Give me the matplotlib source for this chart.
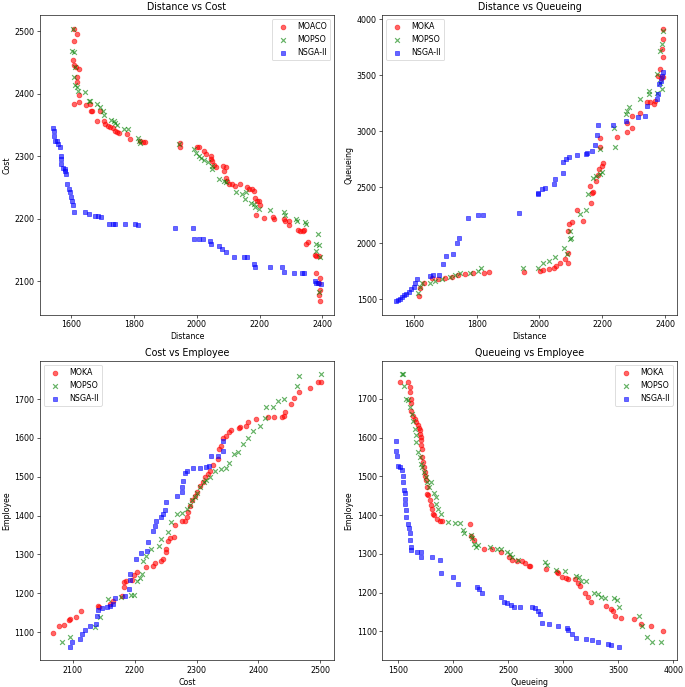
import matplotlib
matplotlib.use("Agg")
import matplotlib.pyplot as plt

# ---------------- Panel 1: Distance vs Cost ----------------
p1_moaco = [(1609,2503),(1618,2496),(1607,2485),(1605,2454),(1610,2446),(1616,2442),(1625,2440),
            (1618,2427),(1618,2418),(1623,2398),(1610,2384),(1625,2387),(1647,2382),(1660,2383),
            (1663,2372),(1667,2372),(1681,2357),(1692,2372),(1704,2356),(1707,2352),(1718,2349),
            (1723,2346),(1734,2345),(1739,2341),(1744,2338),(1752,2337),(1776,2336),(1788,2328),
            (1818,2324),(1828,2322),(1834,2322),(1947,2321),(1947,2315),(1999,2315),(2007,2315),
            (2023,2308),(2028,2303),(2044,2300),(2046,2295),(2049,2293),(2055,2286),(2060,2283),
            (2083,2284),(2092,2283),(2086,2276),(2092,2265),(2097,2260),(2102,2256),(2113,2255),
            (2120,2252),(2136,2256),(2160,2250),(2165,2247),(2176,2247),(2181,2244),(2186,2233),
            (2192,2228),(2199,2228),(2202,2222),(2189,2206),(2213,2201),(2244,2202),(2245,2199),
            (2278,2199),(2281,2197),(2292,2197),(2292,2190),(2323,2182),(2329,2181),(2337,2181),
            (2342,2182),(2349,2160),(2355,2163),(2376,2142),(2381,2141),(2389,2141),(2379,2113),
            (2392,2105),(2389,2097),(2392,2085),(2389,2077),(2392,2068)]
p1_mopso = [(1605,2504),(1602,2468),(1609,2467),(1613,2443),(1609,2427),(1613,2414),(1618,2410),
            (1620,2405),(1644,2403),(1655,2389),(1660,2389),(1683,2384),(1692,2379),(1701,2373),
            (1705,2366),(1725,2358),(1736,2357),(1740,2353),(1744,2350),(1769,2344),(1781,2344),
            (1811,2329),(1816,2325),(1818,2321),(1944,2319),(1992,2311),(1997,2305),(2007,2300),
            (2013,2297),(2023,2294),(2034,2290),(2047,2285),(2049,2279),(2071,2263),(2086,2260),
            (2092,2258),(2126,2243),(2144,2239),(2155,2242),(2152,2231),(2172,2225),(2181,2223),
            (2186,2218),(2197,2215),(2234,2214),(2278,2211),(2281,2206),(2316,2199),(2318,2197),
            (2344,2194),(2349,2191),(2386,2176),(2381,2159),(2389,2158),(2381,2149),(2392,2138),
            (2389,2082)]
p1_nsga = [(1542,2345),(1544,2340),(1546,2333),(1549,2324),(1555,2324),(1557,2319),(1563,2315),
           (1566,2300),(1566,2295),(1568,2287),(1574,2281),(1579,2280),(1581,2276),(1584,2271),
           (1586,2255),(1592,2248),(1597,2242),(1599,2234),(1602,2228),(1605,2222),(1607,2211),
           (1642,2210),(1655,2208),(1676,2205),(1686,2205),(1695,2203),(1721,2192),(1734,2192),
           (1739,2191),(1771,2191),(1802,2191),(1813,2190),(1931,2185),(1989,2185),(1992,2167),
           (2007,2167),(2018,2167),(2042,2165),(2046,2160),(2071,2157),(2081,2151),(2092,2146),
           (2118,2138),(2149,2138),(2160,2138),(2181,2128),(2184,2122),(2234,2122),(2271,2122),
           (2276,2114),(2311,2113),(2334,2113),(2342,2113),(2376,2101),(2379,2097),(2387,2097),
           (2395,2096)]

# ---------------- Panel 2: Distance vs Queueing ----------------
p2_moka = [(2395,3917),(2395,3827),(2390,3732),(2395,3664),(2385,3554),(2379,3494),(2388,3479),
           (2395,3485),(2369,3271),(2353,3265),(2364,3241),(2343,3262),(2322,3161),(2296,3137),
           (2280,3077),(2294,3033),(2280,2994),(2246,2952),(2194,2943),(2194,2860),(2204,2714),
           (2200,2690),(2191,2661),(2186,2610),(2181,2557),(2160,2512),(2172,2458),(2168,2446),
           (2163,2363),(2139,2199),(2120,2295),(2105,2190),(2095,2170),(2092,2110),(2090,1911),
           (2081,1857),(2092,1827),(2066,1821),(2053,1798),(2045,1783),(2029,1774),(2013,1759),
           (2003,1753),(1950,1744),(1841,1744),(1825,1738),(1788,1738),(1762,1723),(1741,1717),
           (1720,1702),(1699,1693),(1678,1685),(1658,1693),(1631,1649),(1621,1604),(1616,1530)]
p2_mopso = [(2395,3896),(2390,3783),(2385,3717),(2390,3375),(2374,3515),(2385,3435),(2374,3345),
            (2348,3360),(2348,3330),(2322,3292),(2285,3217),(2280,3182),(2275,3152),(2238,3033),
            (2241,2860),(2194,2845),(2201,2640),(2194,2622),(2181,2601),(2172,2586),(2155,2443),
            (2149,2295),(2128,2259),(2097,2110),(2102,2051),(2097,2036),(2078,1961),(2087,1902),
            (2050,1878),(2029,1842),(2011,1827),(1997,1783),(1948,1783),(1814,1783),(1804,1753),
            (1778,1738),(1746,1738),(1731,1714),(1715,1700),(1689,1679),(1668,1664),(1652,1649),
            (1626,1649),(1621,1610),(1614,1560)]
p2_nsga = [(2395,3530),(2392,3494),(2388,3449),(2382,3420),(2379,3330),(2376,3286),(2343,3226),
           (2336,3137),(2315,3128),(2275,3092),(2236,3054),(2188,3054),(2183,2964),(2178,2878),
           (2168,2824),(2151,2810),(2149,2795),(2120,2786),(2095,2771),(2086,2750),(2074,2729),
           (2074,2625),(2050,2571),(2045,2527),(2018,2497),(2008,2482),(1997,2452),(1995,2437),
           (1935,2274),(1820,2250),(1804,2250),(1773,2229),(1743,2051),(1738,2006),(1726,1902),
           (1701,1887),(1694,1812),(1681,1717),(1661,1717),(1651,1708),(1610,1679),(1605,1649),
           (1600,1610),(1592,1589),(1584,1568),(1576,1551),(1569,1539),(1561,1521),(1555,1506),
           (1548,1491),(1542,1485)]

# ---------------- Panel 3: Cost vs Employee ----------------
p3_moka = [(2068,1098),(2077,1115),(2085,1119),(2093,1132),(2096,1133),(2105,1139),(2113,1154),
           (2141,1167),(2143,1164),(2160,1173),(2165,1181),(2179,1193),(2182,1217),(2183,1229),
           (2186,1231),(2196,1235),(2198,1246),(2204,1254),(2219,1267),(2229,1270),(2233,1278),
           (2243,1283),(2246,1289),(2250,1306),(2250,1314),(2254,1336),(2257,1342),(2263,1344),
           (2265,1376),(2276,1385),(2281,1385),(2284,1396),(2286,1409),(2289,1424),(2293,1439),
           (2297,1451),(2300,1460),(2305,1475),(2311,1486),(2313,1499),(2319,1507),(2321,1516),
           (2327,1531),(2335,1546),(2336,1571),(2340,1580),(2343,1600),(2348,1606),(2352,1614),
           (2356,1620),(2368,1625),(2370,1629),(2380,1631),(2383,1640),(2396,1649),(2415,1653),
           (2425,1653),(2438,1653),(2442,1657),(2443,1668),(2453,1687),(2458,1703),(2466,1717),
           (2484,1728),(2496,1743),(2501,1743)]
p3_mopso = [(2082,1074),(2095,1087),(2136,1113),(2144,1139),(2157,1186),(2177,1190),(2194,1197),
            (2198,1197),(2203,1231),(2208,1240),(2211,1250),(2214,1284),(2219,1297),(2227,1313),
            (2240,1323),(2243,1340),(2254,1357),(2259,1383),(2268,1404),(2276,1406),(2284,1417),
            (2289,1428),(2292,1439),(2297,1447),(2300,1458),(2305,1473),(2312,1486),(2316,1492),
            (2321,1500),(2329,1514),(2340,1520),(2348,1523),(2352,1535),(2361,1559),(2367,1563),
            (2375,1584),(2383,1601),(2391,1619),(2403,1631),(2410,1651),(2412,1680),(2423,1680),
            (2431,1696),(2442,1700),(2463,1734),(2466,1760),(2501,1764)]
p3_nsga = [(2096,1063),(2098,1074),(2112,1083),(2115,1096),(2120,1106),(2127,1115),(2138,1121),
           (2139,1143),(2140,1156),(2147,1162),(2155,1164),(2160,1167),(2165,1173),(2168,1188),
           (2184,1194),(2190,1211),(2192,1235),(2192,1250),(2202,1289),(2210,1304),(2220,1310),
           (2222,1331),(2230,1360),(2233,1373),(2235,1387),(2242,1396),(2246,1404),(2249,1415),
           (2251,1434),(2269,1450),(2276,1460),(2277,1473),(2278,1488),(2281,1511),(2285,1516),
           (2294,1522),(2305,1522),(2315,1524),(2320,1527),(2324,1554),(2335,1554),(2342,1567),
           (2343,1593)]

# ---------------- Panel 4: Queueing vs Employee ----------------
p4_moka = [(1515,1743),(1590,1743),(1611,1730),(1611,1717),(1620,1700),(1620,1689),(1620,1670),
           (1635,1657),(1650,1649),(1665,1640),(1680,1634),(1689,1625),(1695,1619),(1701,1610),
           (1710,1601),(1710,1593),(1710,1580),(1719,1571),(1719,1550),(1725,1537),(1731,1524),
           (1740,1511),(1740,1500),(1749,1490),(1761,1473),(1761,1456),(1770,1451),(1791,1440),
           (1800,1426),(1809,1417),(1815,1404),(1821,1400),(1851,1389),(1875,1385),(1899,1385),
           (2153,1377),(2165,1347),(2189,1337),(2279,1314),(2348,1314),(2438,1304),(2504,1291),
           (2534,1284),(2579,1283),(2624,1283),(2654,1278),(2684,1270),(2699,1269),(2840,1260),
           (2939,1253),(2954,1250),(2984,1241),(3023,1237),(3044,1235),(3110,1235),(3134,1224),
           (3149,1218),(3194,1199),(3224,1190),(3254,1177),(3388,1167),(3433,1157),(3448,1153),
           (3472,1140),(3523,1134),(3637,1132),(3703,1120),(3793,1115),(3905,1100)]
p4_mopso = [(1530,1764),(1545,1764),(1551,1734),(1575,1700),(1590,1697),(1605,1679),(1629,1661),
            (1635,1644),(1650,1623),(1659,1606),(1665,1589),(1680,1563),(1695,1550),(1710,1533),
            (1719,1524),(1731,1511),(1749,1499),(1761,1486),(1779,1473),(1800,1486),(1824,1457),
            (1839,1447),(1845,1430),(1860,1417),(1890,1404),(1950,1383),(2019,1380),(2061,1379),
            (2085,1363),(2100,1353),(2160,1350),(2174,1340),(2189,1327),(2204,1317),(2228,1323),
            (2333,1319),(2399,1314),(2429,1314),(2489,1306),(2519,1299),(2534,1293),(2585,1284),
            (2834,1280),(2849,1271),(2930,1259),(3014,1256),(3119,1243),(3140,1240),(3164,1231),
            (3209,1229),(3278,1199),(3314,1197),(3344,1190),(3374,1186),(3463,1186),(3487,1181),
            (3508,1164),(3688,1140),(3718,1113),(3763,1087),(3808,1074),(3890,1074)]
p4_nsga = [(1476,1591),(1476,1566),(1485,1554),(1500,1528),(1515,1524),(1530,1516),(1539,1500),
           (1545,1486),(1551,1464),(1560,1457),(1560,1443),(1566,1430),(1569,1413),(1575,1396),
           (1590,1378),(1599,1368),(1605,1355),(1611,1336),(1620,1319),(1620,1310),(1671,1306),
           (1710,1304),(1710,1291),(1806,1291),(1875,1284),(1884,1252),(1995,1241),(2040,1223),
           (2211,1216),(2235,1210),(2259,1199),(2430,1190),(2460,1177),(2490,1173),(2526,1169),
           (2556,1164),(2610,1164),(2715,1162),(2745,1160),(2769,1154),(2790,1145),(2805,1123),
           (2865,1120),(2955,1115),(3030,1109),(3045,1104),(3075,1093),(3111,1083),(3210,1080),
           (3264,1079),(3315,1072),(3405,1068),(3429,1066),(3501,1061)]

titles = ["Distance vs Cost", "Distance vs Queueing", "Cost vs Employee", "Queueing vs Employee"]
xlabels = ["Distance", "Distance", "Cost", "Queueing"]
ylabels = ["Cost", "Queueing", "Employee", "Employee"]
first_names = ["MOACO", "MOKA", "MOKA", "MOKA"]
legend_locs = ["upper right", "upper left", "upper left", "upper right"]
panels = [(p1_moaco, p1_mopso, p1_nsga), (p2_moka, p2_mopso, p2_nsga),
          (p3_moka, p3_mopso, p3_nsga), (p4_moka, p4_mopso, p4_nsga)]

DPI = 685 / 12.0
fig, axes = plt.subplots(2, 2, figsize=(12.0, 687 / DPI), dpi=DPI)
fig.subplots_adjust(left=0.058, right=0.988, top=0.978, bottom=0.039, wspace=0.163, hspace=0.153)

for ax, (a, b, c), t, xl, yl, n1, loc in zip(axes.flat, panels, titles, xlabels, ylabels,
                                             first_names, legend_locs):
    ax.scatter([p[0] for p in a], [p[1] for p in a], c="red", marker="o", alpha=0.6, label=n1)
    ax.scatter([p[0] for p in b], [p[1] for p in b], c="green", marker="x", alpha=0.6, label="MOPSO")
    ax.scatter([p[0] for p in c], [p[1] for p in c], c="blue", marker="s", alpha=0.6, label="NSGA-II")
    ax.set_title(t, fontsize=12)
    ax.set_xlabel(xl)
    ax.set_ylabel(yl)
    ax.legend(loc=loc)

axes[0, 1].set_yticks([1500, 2000, 2500, 3000, 3500, 4000])
axes[1, 1].set_xticks([1500, 2000, 2500, 3000, 3500, 4000])
axes[1, 1].set_xlim(1355, 4030)

fig.savefig("out.png", dpi=DPI)
